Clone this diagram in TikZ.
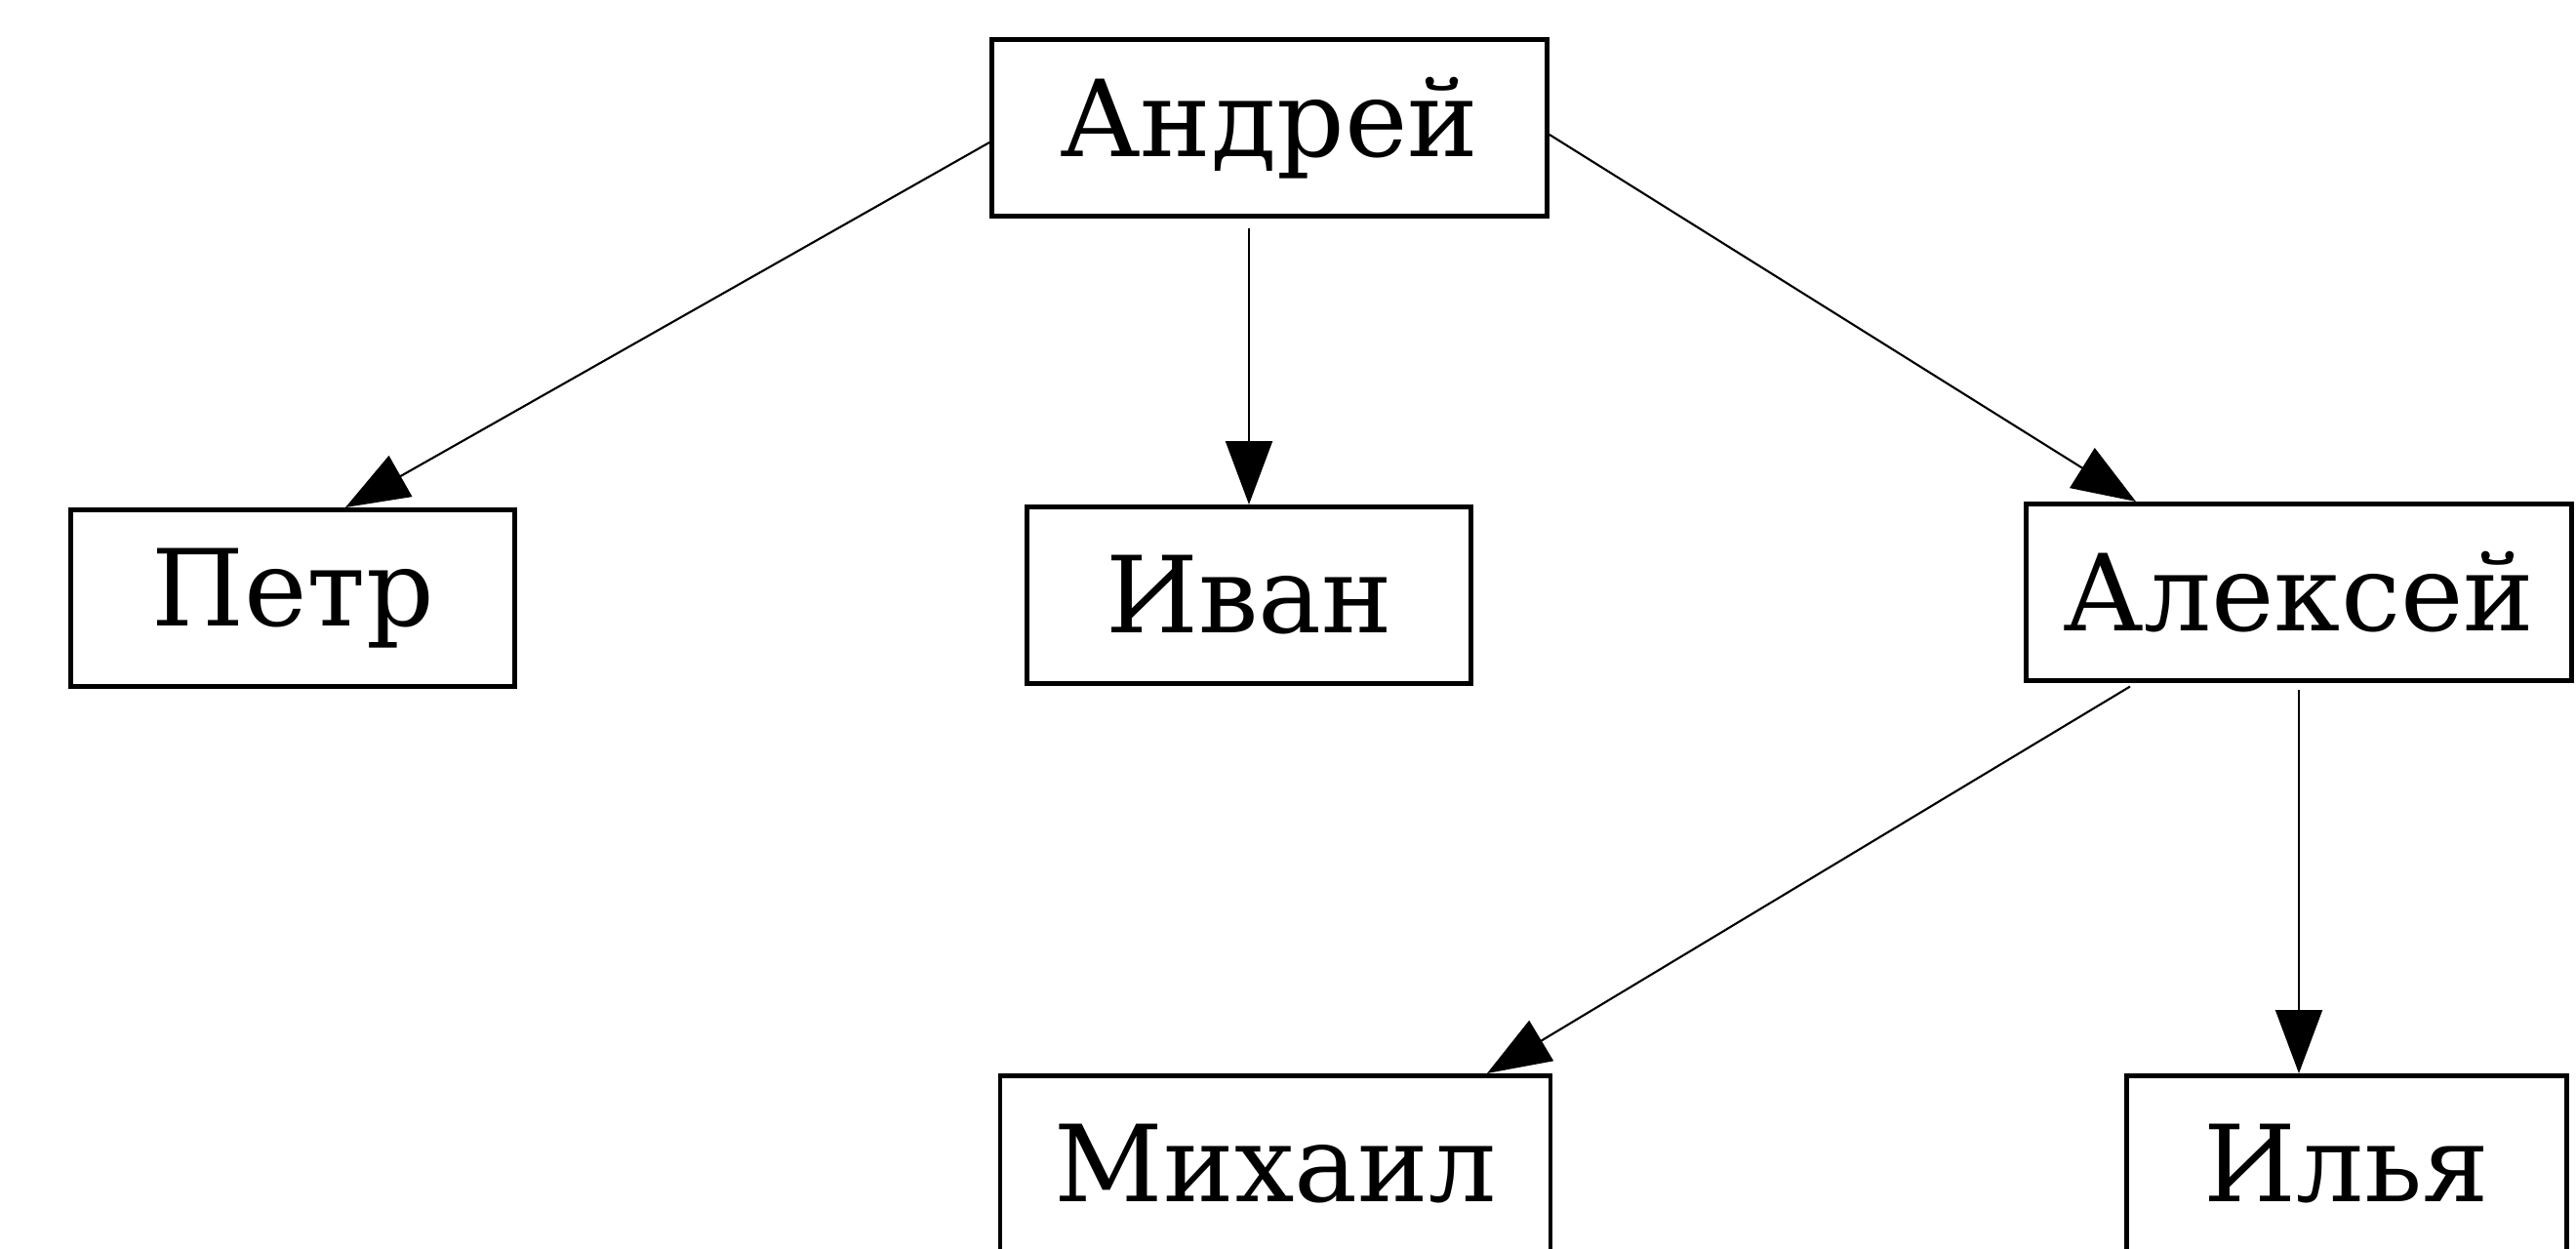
\documentclass[tikz,border=0pt]{standalone}
\usepackage{fontspec}
\setmainfont{DejaVu Serif}
\usetikzlibrary{arrows.meta}
\tikzset{person/.style={draw, line width=1.4pt, minimum height=1.81cm, inner sep=0pt,
  font=\fontsize{31}{36}\selectfont}}

\begin{document}
\begin{tikzpicture}[>={Triangle[length=6.5mm,width=4.8mm]}, line width=0.6pt]
\useasboundingbox (0,0) rectangle (26.4,12.8);
\node[person, minimum width=5.69cm] (a) at (13.01, 11.49) {Андрей};
\node[person, minimum width=4.55cm] (p) at (3.00, 6.67) {Петр};  \node[person, minimum width=4.55cm] (i) at (12.80, 6.70) {Иван};
\node[person, minimum width=5.59cm] (al) at (23.56, 6.73) {Алексей};
\node[person, minimum width=5.64cm] (m) at (13.07, 0.87) {Михаил}; \node[person, minimum width=4.51cm] (il) at (24.05, 0.87) {Илья};
\draw[->] ([yshift=-1.5mm]a.west) to ([xshift=5.4mm]p.north);
\draw[->, shorten <=1mm] (a.south -| i) to (i.north);
\draw[->] ([yshift=-0.7mm]a.east) to ([xshift=-16.7mm]al.north);
\draw[->, shorten <=0.7mm] ([xshift=-16.7mm]al.south) to ([xshift=21.7mm]m.north);
\draw[->, shorten <=0.7mm] (al.south) to (al.south |- il.north);
\end{tikzpicture}
\end{document}
